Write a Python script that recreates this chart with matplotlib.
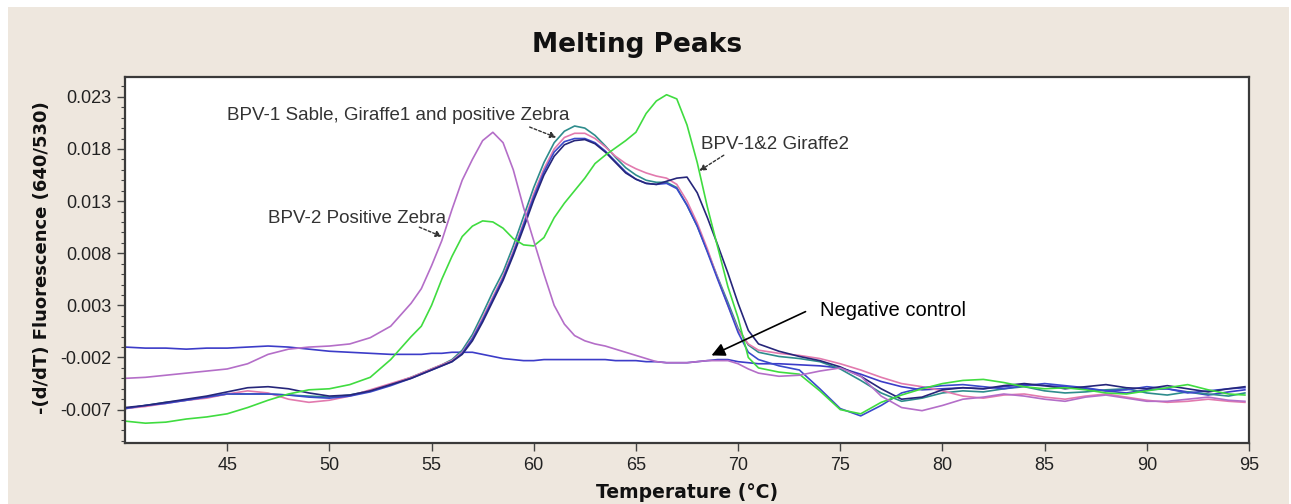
import matplotlib
matplotlib.use("Agg")
import matplotlib.pyplot as plt
from matplotlib.patches import Rectangle

## Temperature grid shared by all curves (deg C)
temps = [40, 41, 42, 43, 44, 45, 46, 47, 48, 49, 50, 51, 52, 53, 54,
         54.5, 55, 55.5, 56, 56.5, 57, 57.5, 58, 58.5, 59, 59.5, 60, 60.5, 61, 61.5,
         62, 62.5, 63, 63.5, 64, 64.5, 65, 65.5, 66, 66.5, 67, 67.5, 68, 68.5, 69,
         69.5, 70, 70.5, 71,
         72, 73, 74, 75, 76, 77, 78, 79, 80, 81, 82, 83, 84, 85, 86, 87, 88, 89, 90,
         91, 92, 93, 94, 94.8]

## -(d/dT) fluorescence for each sample
giraffe2_green = [-0.0081, -0.0083, -0.0082, -0.0079, -0.0077, -0.0074, -0.0068, -0.0061, -0.0055, -0.0051,
                  -0.0050, -0.0046, -0.0039, -0.0022, 0.0000,
                  0.0010, 0.0030, 0.0055, 0.0077, 0.0096, 0.0106, 0.0111, 0.0110, 0.0104, 0.0094,
                  0.0088, 0.0087, 0.0095, 0.0114, 0.0128, 0.0140, 0.0152, 0.0166, 0.0174, 0.0181,
                  0.0188, 0.0196, 0.0214, 0.0226, 0.0232, 0.0228, 0.0203, 0.0167, 0.0124, 0.0086,
                  0.0048, 0.0018, -0.0020, -0.0030,
                  -0.0034, -0.0036, -0.0052, -0.0070, -0.0074, -0.0063, -0.0056, -0.0050, -0.0045, -0.0042,
                  -0.0041, -0.0044, -0.0048, -0.0050, -0.0049, -0.0051, -0.0054, -0.0055, -0.0052, -0.0049,
                  -0.0046, -0.0051, -0.0055, -0.0056]

bpv2_zebra = [-0.0040, -0.0039, -0.0037, -0.0035, -0.0033, -0.0031, -0.0026, -0.0017, -0.0012, -0.0010,
              -0.0009, -0.0007, -0.0001, 0.0010, 0.0032,
              0.0046, 0.0068, 0.0092, 0.0122, 0.0150, 0.0170, 0.0188, 0.0196, 0.0186, 0.0160,
              0.0124, 0.0092, 0.0060, 0.0030, 0.0012, 0.0001, -0.0004, -0.0007, -0.0009, -0.0012,
              -0.0015, -0.0018, -0.0021, -0.0024, -0.0025, -0.0025, -0.0025, -0.0024, -0.0023, -0.0023,
              -0.0023, -0.0026, -0.0031, -0.0035,
              -0.0038, -0.0037, -0.0033, -0.0030, -0.0038, -0.0057, -0.0068, -0.0071, -0.0066, -0.0060,
              -0.0058, -0.0055, -0.0057, -0.0060, -0.0062, -0.0058, -0.0056, -0.0059, -0.0062, -0.0062,
              -0.0060, -0.0058, -0.0061, -0.0062]

bpv1_teal = [-0.0069, -0.0066, -0.0063, -0.0061, -0.0058, -0.0055, -0.0055, -0.0055, -0.0056, -0.0057,
             -0.0058, -0.0056, -0.0052, -0.0046, -0.0039,
             -0.0035, -0.0031, -0.0027, -0.0022, -0.0013, 0.0002, 0.0022, 0.0043, 0.0062, 0.0087,
             0.0115, 0.0143, 0.0167, 0.0186, 0.0197, 0.0202, 0.0200, 0.0193, 0.0183, 0.0172,
             0.0162, 0.0155, 0.0150, 0.0148, 0.0148, 0.0143, 0.0126, 0.0106, 0.0082, 0.0057,
             0.0033, 0.0008, -0.0008, -0.0015,
             -0.0019, -0.0021, -0.0024, -0.0031, -0.0042, -0.0054, -0.0062, -0.0059, -0.0054, -0.0052,
             -0.0053, -0.0050, -0.0048, -0.0052, -0.0054, -0.0053, -0.0051, -0.0050, -0.0054, -0.0056,
             -0.0053, -0.0055, -0.0057, -0.0054]

bpv1_pink = [-0.0069, -0.0067, -0.0064, -0.0061, -0.0059, -0.0055, -0.0052, -0.0054, -0.0060, -0.0063,
             -0.0061, -0.0057, -0.0051, -0.0045, -0.0039,
             -0.0035, -0.0031, -0.0027, -0.0023, -0.0015, -0.0001, 0.0018, 0.0038, 0.0058, 0.0082,
             0.0109, 0.0137, 0.0161, 0.0180, 0.0191, 0.0195, 0.0195, 0.0190, 0.0182, 0.0173,
             0.0166, 0.0161, 0.0157, 0.0154, 0.0152, 0.0146, 0.0130, 0.0109, 0.0084, 0.0056,
             0.0030, 0.0006, -0.0007, -0.0013,
             -0.0016, -0.0018, -0.0021, -0.0026, -0.0032, -0.0039, -0.0045, -0.0048, -0.0052, -0.0057,
             -0.0059, -0.0056, -0.0055, -0.0058, -0.0060, -0.0057, -0.0055, -0.0058, -0.0061, -0.0063,
             -0.0062, -0.0060, -0.0062, -0.0063]

bpv1_navy = [-0.0068, -0.0066, -0.0063, -0.0060, -0.0057, -0.0053, -0.0049, -0.0048, -0.0050, -0.0054,
             -0.0057, -0.0056, -0.0052, -0.0046, -0.0040,
             -0.0036, -0.0032, -0.0028, -0.0024, -0.0017, -0.0004, 0.0014, 0.0034, 0.0054, 0.0078,
             0.0104, 0.0131, 0.0155, 0.0173, 0.0184, 0.0188, 0.0189, 0.0185, 0.0177, 0.0167,
             0.0157, 0.0151, 0.0147, 0.0146, 0.0149, 0.0152, 0.0153, 0.0138, 0.0114, 0.0088,
             0.0061, 0.0032, 0.0006, -0.0007,
             -0.0014, -0.0019, -0.0023, -0.0029, -0.0038, -0.0050, -0.0060, -0.0058, -0.0051, -0.0049,
             -0.0050, -0.0047, -0.0045, -0.0047, -0.0050, -0.0048, -0.0046, -0.0049, -0.0050, -0.0047,
             -0.0050, -0.0053, -0.0050, -0.0048]

bpv1_blue = [-0.0069, -0.0066, -0.0064, -0.0061, -0.0058, -0.0055, -0.0055, -0.0055, -0.0056, -0.0058,
             -0.0059, -0.0057, -0.0053, -0.0047, -0.0040,
             -0.0036, -0.0032, -0.0028, -0.0024, -0.0016, -0.0002, 0.0016, 0.0036, 0.0056, 0.0080,
             0.0107, 0.0134, 0.0158, 0.0177, 0.0187, 0.0190, 0.0190, 0.0186, 0.0178, 0.0168,
             0.0158, 0.0151, 0.0147, 0.0146, 0.0147, 0.0142, 0.0126, 0.0106, 0.0081, 0.0055,
             0.0030, 0.0004, -0.0015, -0.0022,
             -0.0028, -0.0032, -0.0050, -0.0069, -0.0076, -0.0066, -0.0054, -0.0049, -0.0047, -0.0046,
             -0.0048, -0.0050, -0.0047, -0.0045, -0.0047, -0.0049, -0.0052, -0.0051, -0.0048, -0.0050,
             -0.0054, -0.0052, -0.0050, -0.0049]

negative_ctrl = [-0.0010, -0.0011, -0.0011, -0.0012, -0.0011, -0.0011, -0.0010, -0.0009, -0.0010, -0.0012,
                 -0.0014, -0.0015, -0.0016, -0.0017, -0.0017,
                 -0.0017, -0.0016, -0.0016, -0.0015, -0.0015, -0.0015, -0.0017, -0.0019, -0.0021, -0.0022,
                 -0.0023, -0.0023, -0.0022, -0.0022, -0.0022, -0.0022, -0.0022, -0.0022, -0.0022, -0.0023,
                 -0.0023, -0.0023, -0.0024, -0.0024, -0.0025, -0.0025, -0.0025, -0.0024, -0.0023, -0.0022,
                 -0.0022, -0.0024, -0.0025, -0.0026,
                 -0.0026, -0.0027, -0.0028, -0.0030, -0.0036, -0.0043, -0.0048, -0.0051, -0.0050, -0.0049,
                 -0.0050, -0.0048, -0.0046, -0.0047, -0.0048, -0.0050, -0.0052, -0.0054, -0.0051, -0.0050,
                 -0.0053, -0.0056, -0.0053, -0.0051]

y_ticks = [-0.007, -0.002, 0.003, 0.008, 0.013, 0.018, 0.023]
y_tick_labels = ["-0.007", "-0.002", "0.003", "0.008", "0.013", "0.018", "0.023"]
x_ticks = [45, 50, 55, 60, 65, 70, 75, 80, 85, 90, 95]

## Figure with beige panel
fig = plt.figure(figsize=(12.91, 5.04), dpi=100)
fig.patch.set_facecolor("white")
fig.add_artist(Rectangle((8 / 1291, 0), 1281 / 1291, 497 / 504, transform=fig.transFigure,
                         facecolor="#EEE7DE", edgecolor="none", zorder=-10))

ax = fig.add_axes([125 / 1291, 1 - 443 / 504, 1124 / 1291, 366 / 504])
ax.set_facecolor("white")

lw = 1.2
ax.plot(temps, negative_ctrl, color="#3C3CC8", lw=lw)
ax.plot(temps, bpv1_teal, color="#2E8C8C", lw=lw)
ax.plot(temps, bpv1_pink, color="#E27AAE", lw=lw)
ax.plot(temps, bpv1_blue, color="#3A4ACB", lw=lw)
ax.plot(temps, bpv1_navy, color="#26267A", lw=lw)
ax.plot(temps, giraffe2_green, color="#40DC40", lw=lw)
ax.plot(temps, bpv2_zebra, color="#B46EC8", lw=lw)

ax.set_xlim(40, 95)
ax.set_ylim(-0.0102, 0.0249)
ax.set_xticks(x_ticks)
ax.set_xticklabels([str(t) for t in x_ticks])
ax.set_yticks(y_ticks)
ax.set_yticklabels(y_tick_labels)
ax.set_yticks([v / 1000 for v in range(-10, 25)], minor=True)

for lab in ax.get_xticklabels() + ax.get_yticklabels():
    lab.set_fontfamily("Liberation Sans")
    lab.set_fontsize(13)
    lab.set_color("#222222")
ax.tick_params(axis="both", which="major", length=6, width=1, color="#444444", pad=4)
ax.tick_params(axis="y", which="minor", length=3, width=0.8, color="#444444")
for s in ax.spines.values():
    s.set_color("#3A3A3A")
    s.set_linewidth(1.6)

## Titles
fig.text(637 / 1291, 1 - 45 / 504, "Melting Peaks", ha="center", va="center",
         fontsize=19, fontweight="bold", family="DejaVu Sans", color="#111111")
fig.text(687 / 1291, 1 - 492 / 504, "Temperature (°C)", ha="center", va="center",
         fontsize=13.5, fontweight="bold", family="DejaVu Sans", color="#111111")
fig.text(42 / 1291, 1 - 258 / 504, "-(d/dT) Fluorescence (640/530)", ha="center", va="center",
         rotation=90, fontsize=13, fontweight="bold", family="DejaVu Sans", color="#111111")

## Annotations
note = {"family": "Liberation Sans", "size": 13.5, "color": "#333333"}
dash_arrow = dict(arrowstyle="-|>", color="#333333", lw=1, linestyle=(0, (2, 1.5)),
                  mutation_scale=9, shrinkA=0, shrinkB=0)
ax.text(45.0, 0.0212, "BPV-1 Sable, Giraffe1 and positive Zebra", va="center", ha="left", **note)
ax.annotate("", xy=(61.1, 0.0191), xytext=(59.8, 0.0201), arrowprops=dash_arrow)
ax.text(47.0, 0.0113, "BPV-2 Positive Zebra", va="center", ha="left", **note)
ax.annotate("", xy=(55.5, 0.0096), xytext=(54.4, 0.0105), arrowprops=dash_arrow)
ax.text(68.2, 0.0184, "BPV-1&2 Giraffe2", va="center", ha="left", **note)
ax.annotate("", xy=(68.1, 0.0159), xytext=(69.3, 0.0174), arrowprops=dash_arrow)

ax.text(74.0, 0.00246, "Negative control", va="center", ha="left",
        family="Liberation Sans", size=14.5, color="black")
ax.annotate("", xy=(68.7, -0.0018), xytext=(73.3, 0.0024),
            arrowprops=dict(arrowstyle="-|>", color="black", lw=1.2, mutation_scale=20,
                            shrinkA=0, shrinkB=0))

fig.savefig("out.png", dpi=100, facecolor=fig.get_facecolor())
